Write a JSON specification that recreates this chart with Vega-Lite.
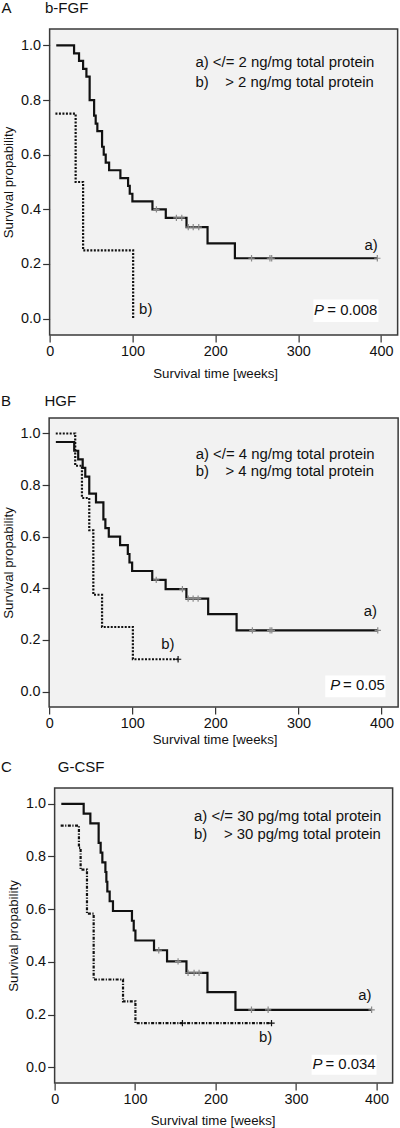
{
  "$schema": "https://vega.github.io/schema/vega-lite/v6.json",
  "padding": {"left": 0, "top": 0, "right": 0, "bottom": 0},
  "spacing": 12,
  "center": true,
  "config": {
    "font": "Liberation Sans",
    "view": {"fill": "#f2f2f2", "stroke": "#3a3a3a", "strokeWidth": 1.5},
    "axis": {"domain": false, "grid": false, "tickColor": "#333", "tickSize": 7, "tickWidth": 1.2, "labelFontSize": 14.4, "labelColor": "#111", "labelPadding": 2, "labelFlush": false, "titleFontSize": 13.3, "titleFontWeight": "normal", "titleColor": "#111"},
    "title": {"anchor": "start", "frame": "bounds", "fontSize": 15, "fontWeight": "normal", "color": "#111", "offset": 10},
    "text": {"fontSize": 14.9, "font": "Liberation Sans", "color": "#111"}
  },
  "vconcat": [
    {
      "width": 348,
      "height": 306,
      "title": {"text": "A\u00a0\u00a0\u00a0\u00a0\u00a0\u00a0\u00a0\u00a0b-FGF", "offset": 13},
      "data": {"values": [
        {"kind": "line", "g": "a", "t": 8, "s": 1},
        {"kind": "line", "g": "a", "t": 29.5, "s": 0.971},
        {"kind": "line", "g": "a", "t": 35.5, "s": 0.943},
        {"kind": "line", "g": "a", "t": 40.4, "s": 0.914},
        {"kind": "line", "g": "a", "t": 44.4, "s": 0.886},
        {"kind": "line", "g": "a", "t": 48.3, "s": 0.8},
        {"kind": "line", "g": "a", "t": 53.7, "s": 0.743},
        {"kind": "line", "g": "a", "t": 55.6, "s": 0.714},
        {"kind": "line", "g": "a", "t": 57.6, "s": 0.686},
        {"kind": "line", "g": "a", "t": 63.3, "s": 0.629},
        {"kind": "line", "g": "a", "t": 65.3, "s": 0.6},
        {"kind": "line", "g": "a", "t": 67.7, "s": 0.571},
        {"kind": "line", "g": "a", "t": 71.8, "s": 0.543},
        {"kind": "line", "g": "a", "t": 85.4, "s": 0.514},
        {"kind": "line", "g": "a", "t": 94.7, "s": 0.486},
        {"kind": "line", "g": "a", "t": 96.7, "s": 0.457},
        {"kind": "line", "g": "a", "t": 99.9, "s": 0.429},
        {"kind": "line", "g": "a", "t": 124.1, "s": 0.4},
        {"kind": "line", "g": "a", "t": 140.2, "s": 0.369},
        {"kind": "line", "g": "a", "t": 165.2, "s": 0.335},
        {"kind": "line", "g": "a", "t": 190.6, "s": 0.275},
        {"kind": "line", "g": "a", "t": 223.6, "s": 0.221},
        {"kind": "line", "g": "a", "t": 395.5, "s": 0.221},
        {"kind": "cens", "g": "a", "t": 128.9, "s": 0.4},
        {"kind": "cens", "g": "a", "t": 153, "s": 0.369},
        {"kind": "cens", "g": "a", "t": 159.5, "s": 0.369},
        {"kind": "cens", "g": "a", "t": 167.3, "s": 0.335},
        {"kind": "cens", "g": "a", "t": 173.3, "s": 0.335},
        {"kind": "cens", "g": "a", "t": 180, "s": 0.335},
        {"kind": "cens", "g": "a", "t": 243.7, "s": 0.221},
        {"kind": "cens", "g": "a", "t": 265.9, "s": 0.221},
        {"kind": "cens", "g": "a", "t": 268, "s": 0.221},
        {"kind": "cens", "g": "a", "t": 395.5, "s": 0.221},
        {"kind": "line", "g": "b", "t": 7, "s": 0.75},
        {"kind": "line", "g": "b", "t": 31.4, "s": 0.5},
        {"kind": "line", "g": "b", "t": 40.4, "s": 0.25},
        {"kind": "line", "g": "b", "t": 100.8, "s": 0},
        {"kind": "legend", "t": 176, "s": 0.934, "label": "a) </= 2 ng/mg total protein"},
        {"kind": "legend", "t": 176, "s": 0.863, "label": "b)\u00a0\u00a0\u00a0\u00a0> 2 ng/mg total protein"},
        {"kind": "legend", "t": 380, "s": 0.266, "label": "a)"},
        {"kind": "legend", "t": 108, "s": 0.033, "label": "b)"},
        {"kind": "box", "t": 318.3, "t2": 396.9, "s": 0.0695, "s2": -0.0124},
        {"kind": "pital", "t": 319, "s": 0.0285, "label": "P"},
        {"kind": "pval", "t": 395.6, "s": 0.0285, "label": "= 0.008"}
      ]},
      "encoding": {
        "x": {"field": "t", "type": "quantitative", "scale": {"domain": [0, 420], "nice": false, "zero": false},
              "axis": {"values": [0, 100, 200, 300, 400], "title": "Survival time [weeks]", "titleX": 165.5, "titlePadding": 9}},
        "y": {"field": "s", "type": "quantitative", "scale": {"domain": [-0.06, 1.06], "nice": false, "zero": false},
              "axis": {"values": [0, 0.2, 0.4, 0.6, 0.8, 1.0], "format": ".1f", "title": "Survival propability", "titlePadding": 5}}
      },
      "layer": [
        {"transform": [{"filter": "datum.kind == 'box'"}], "mark": {"type": "rect", "fill": "#ffffff"},
         "encoding": {"x2": {"field": "t2"}, "y2": {"field": "s2"}}},
        {"transform": [{"filter": "datum.kind == 'line' && datum.g == 'b'"}],
         "mark": {"type": "line", "interpolate": "step-after", "color": "#111", "strokeWidth": 2.2, "strokeDash": [2, 1.5]}, "encoding": {}},
        {"transform": [{"filter": "datum.kind == 'line' && datum.g == 'a'"}],
         "mark": {"type": "line", "interpolate": "step-after", "color": "#111", "strokeWidth": 2.2}, "encoding": {}},
        {"transform": [{"filter": "datum.kind == 'cens' && datum.g == 'a'"}],
         "mark": {"type": "point", "shape": "M0,-1V1M-1,0H1", "filled": false, "stroke": "#8a8a8a", "strokeWidth": 1.2, "size": 40, "opacity": 1}, "encoding": {}},
        {"transform": [{"filter": "datum.kind == 'legend'"}],
         "mark": {"type": "text", "align": "left", "baseline": "middle"}, "encoding": {"text": {"field": "label"}}},
        {"transform": [{"filter": "datum.kind == 'pital'"}],
         "mark": {"type": "text", "align": "left", "baseline": "middle", "fontStyle": "italic"}, "encoding": {"text": {"field": "label"}}},
        {"transform": [{"filter": "datum.kind == 'pval'"}],
         "mark": {"type": "text", "align": "right", "baseline": "middle"}, "encoding": {"text": {"field": "label"}}}
      ]
    },
    {
      "width": 349,
      "height": 289,
      "title": {"text": "B\u00a0\u00a0\u00a0\u00a0\u00a0\u00a0\u00a0\u00a0HGF", "offset": 9},
      "data": {"values": [
        {"kind": "line", "g": "a", "t": 8.1, "s": 0.967},
        {"kind": "line", "g": "a", "t": 30.2, "s": 0.933},
        {"kind": "line", "g": "a", "t": 35, "s": 0.9},
        {"kind": "line", "g": "a", "t": 40.4, "s": 0.867},
        {"kind": "line", "g": "a", "t": 43.5, "s": 0.833},
        {"kind": "line", "g": "a", "t": 48.3, "s": 0.767},
        {"kind": "line", "g": "a", "t": 56.4, "s": 0.733},
        {"kind": "line", "g": "a", "t": 65.3, "s": 0.667},
        {"kind": "line", "g": "a", "t": 67.7, "s": 0.633},
        {"kind": "line", "g": "a", "t": 71.8, "s": 0.6},
        {"kind": "line", "g": "a", "t": 85.4, "s": 0.567},
        {"kind": "line", "g": "a", "t": 94.7, "s": 0.533},
        {"kind": "line", "g": "a", "t": 96.7, "s": 0.5},
        {"kind": "line", "g": "a", "t": 99.9, "s": 0.467},
        {"kind": "line", "g": "a", "t": 124.1, "s": 0.433},
        {"kind": "line", "g": "a", "t": 140.2, "s": 0.397},
        {"kind": "line", "g": "a", "t": 165.2, "s": 0.36},
        {"kind": "line", "g": "a", "t": 191.4, "s": 0.3},
        {"kind": "line", "g": "a", "t": 225.6, "s": 0.237},
        {"kind": "line", "g": "a", "t": 395.5, "s": 0.237},
        {"kind": "cens", "g": "a", "t": 128.9, "s": 0.433},
        {"kind": "cens", "g": "a", "t": 160.4, "s": 0.397},
        {"kind": "cens", "g": "a", "t": 167.3, "s": 0.36},
        {"kind": "cens", "g": "a", "t": 173.3, "s": 0.36},
        {"kind": "cens", "g": "a", "t": 179.3, "s": 0.36},
        {"kind": "cens", "g": "a", "t": 244.6, "s": 0.237},
        {"kind": "cens", "g": "a", "t": 265.9, "s": 0.237},
        {"kind": "cens", "g": "a", "t": 268, "s": 0.237},
        {"kind": "cens", "g": "a", "t": 395.5, "s": 0.237},
        {"kind": "line", "g": "b", "t": 8, "s": 1},
        {"kind": "line", "g": "b", "t": 31.4, "s": 0.875},
        {"kind": "line", "g": "b", "t": 39.5, "s": 0.75},
        {"kind": "line", "g": "b", "t": 48.3, "s": 0.625},
        {"kind": "line", "g": "b", "t": 53.2, "s": 0.375},
        {"kind": "line", "g": "b", "t": 63.7, "s": 0.25},
        {"kind": "line", "g": "b", "t": 100.8, "s": 0.125},
        {"kind": "line", "g": "b", "t": 155.2, "s": 0.125},
        {"kind": "cens", "g": "b", "t": 155.2, "s": 0.125},
        {"kind": "legend", "t": 176.4, "s": 0.916, "label": "a) </= 4 ng/mg total protein"},
        {"kind": "legend", "t": 176.4, "s": 0.851, "label": "b)\u00a0\u00a0\u00a0\u00a0> 4 ng/mg total protein"},
        {"kind": "legend", "t": 378.7, "s": 0.308, "label": "a)"},
        {"kind": "legend", "t": 135, "s": 0.182, "label": "b)"},
        {"kind": "box", "t": 332.3, "t2": 404.8, "s": 0.062, "s2": -0.022},
        {"kind": "pital", "t": 338.4, "s": 0.023, "label": "P"},
        {"kind": "pval", "t": 404.1, "s": 0.023, "label": "= 0.05"}
      ]},
      "encoding": {
        "x": {"field": "t", "type": "quantitative", "scale": {"domain": [0, 420], "nice": false, "zero": false},
              "axis": {"values": [0, 100, 200, 300, 400], "title": "Survival time [weeks]", "titleX": 165.5, "titlePadding": 3}},
        "y": {"field": "s", "type": "quantitative", "scale": {"domain": [-0.06, 1.06], "nice": false, "zero": false},
              "axis": {"values": [0, 0.2, 0.4, 0.6, 0.8, 1.0], "format": ".1f", "title": "Survival propability", "titlePadding": 5}}
      },
      "layer": [
        {"transform": [{"filter": "datum.kind == 'box'"}], "mark": {"type": "rect", "fill": "#ffffff"},
         "encoding": {"x2": {"field": "t2"}, "y2": {"field": "s2"}}},
        {"transform": [{"filter": "datum.kind == 'line' && datum.g == 'b'"}],
         "mark": {"type": "line", "interpolate": "step-after", "color": "#111", "strokeWidth": 2.2, "strokeDash": [2, 1.5]}, "encoding": {}},
        {"transform": [{"filter": "datum.kind == 'line' && datum.g == 'a'"}],
         "mark": {"type": "line", "interpolate": "step-after", "color": "#111", "strokeWidth": 2.2}, "encoding": {}},
        {"transform": [{"filter": "datum.kind == 'cens' && datum.g == 'a'"}],
         "mark": {"type": "point", "shape": "M0,-1V1M-1,0H1", "filled": false, "stroke": "#8a8a8a", "strokeWidth": 1.2, "size": 40, "opacity": 1}, "encoding": {}},
        {"transform": [{"filter": "datum.kind == 'cens' && datum.g == 'b'"}],
         "mark": {"type": "point", "shape": "M0,-1V1M-1,0H1", "filled": false, "stroke": "#111", "strokeWidth": 1.2, "size": 40, "opacity": 1}, "encoding": {}},
        {"transform": [{"filter": "datum.kind == 'legend'"}],
         "mark": {"type": "text", "align": "left", "baseline": "middle"}, "encoding": {"text": {"field": "label"}}},
        {"transform": [{"filter": "datum.kind == 'pital'"}],
         "mark": {"type": "text", "align": "left", "baseline": "middle", "fontStyle": "italic"}, "encoding": {"text": {"field": "label"}}},
        {"transform": [{"filter": "datum.kind == 'pval'"}],
         "mark": {"type": "text", "align": "right", "baseline": "middle"}, "encoding": {"text": {"field": "label"}}}
      ]
    },
    {
      "width": 338,
      "height": 295,
      "title": {"text": "C\u00a0\u00a0\u00a0\u00a0\u00a0\u00a0\u00a0\u00a0\u00a0\u00a0\u00a0G-CSF", "offset": 13, "dx": -5.5},
      "data": {"values": [
        {"kind": "line", "g": "a", "t": 8.3, "s": 1},
        {"kind": "line", "g": "a", "t": 36.1, "s": 0.963},
        {"kind": "line", "g": "a", "t": 44.4, "s": 0.926},
        {"kind": "line", "g": "a", "t": 54.7, "s": 0.852},
        {"kind": "line", "g": "a", "t": 57.2, "s": 0.815},
        {"kind": "line", "g": "a", "t": 59.3, "s": 0.778},
        {"kind": "line", "g": "a", "t": 63.1, "s": 0.741},
        {"kind": "line", "g": "a", "t": 64.3, "s": 0.704},
        {"kind": "line", "g": "a", "t": 65.5, "s": 0.667},
        {"kind": "line", "g": "a", "t": 68.4, "s": 0.63},
        {"kind": "line", "g": "a", "t": 72.5, "s": 0.593},
        {"kind": "line", "g": "a", "t": 96.1, "s": 0.556},
        {"kind": "line", "g": "a", "t": 98.3, "s": 0.519},
        {"kind": "line", "g": "a", "t": 100.4, "s": 0.481},
        {"kind": "line", "g": "a", "t": 123.5, "s": 0.444},
        {"kind": "line", "g": "a", "t": 139.7, "s": 0.402},
        {"kind": "line", "g": "a", "t": 163.8, "s": 0.358},
        {"kind": "line", "g": "a", "t": 189.9, "s": 0.285},
        {"kind": "line", "g": "a", "t": 224.7, "s": 0.218},
        {"kind": "line", "g": "a", "t": 393.9, "s": 0.218},
        {"kind": "cens", "g": "a", "t": 129.4, "s": 0.444},
        {"kind": "cens", "g": "a", "t": 153.4, "s": 0.402},
        {"kind": "cens", "g": "a", "t": 165.8, "s": 0.358},
        {"kind": "cens", "g": "a", "t": 173.3, "s": 0.358},
        {"kind": "cens", "g": "a", "t": 179.5, "s": 0.358},
        {"kind": "cens", "g": "a", "t": 244.6, "s": 0.218},
        {"kind": "cens", "g": "a", "t": 265.3, "s": 0.218},
        {"kind": "cens", "g": "a", "t": 393.9, "s": 0.218},
        {"kind": "line", "g": "b", "t": 7.5, "s": 0.917},
        {"kind": "line", "g": "b", "t": 30.2, "s": 0.833},
        {"kind": "line", "g": "b", "t": 32.3, "s": 0.75},
        {"kind": "line", "g": "b", "t": 40.2, "s": 0.583},
        {"kind": "line", "g": "b", "t": 48.5, "s": 0.333},
        {"kind": "line", "g": "b", "t": 85, "s": 0.25},
        {"kind": "line", "g": "b", "t": 100.4, "s": 0.167},
        {"kind": "line", "g": "b", "t": 269.5, "s": 0.167},
        {"kind": "cens", "g": "b", "t": 158.8, "s": 0.167},
        {"kind": "cens", "g": "b", "t": 269.5, "s": 0.167},
        {"kind": "legend", "t": 173.3, "s": 0.949, "label": "a) </= 30 pg/mg total protein"},
        {"kind": "legend", "t": 173.3, "s": 0.882, "label": "b)\u00a0\u00a0\u00a0\u00a0> 30 pg/mg total protein"},
        {"kind": "legend", "t": 377.2, "s": 0.271, "label": "a)"},
        {"kind": "legend", "t": 254, "s": 0.112, "label": "b)"},
        {"kind": "box", "t": 319.3, "t2": 400, "s": 0.047, "s2": -0.029},
        {"kind": "pital", "t": 320.5, "s": 0.009, "label": "P"},
        {"kind": "pval", "t": 398.9, "s": 0.009, "label": "= 0.034"}
      ]},
      "encoding": {
        "x": {"field": "t", "type": "quantitative", "scale": {"domain": [0, 420], "nice": false, "zero": false},
              "axis": {"values": [0, 100, 200, 300, 400], "title": "Survival time [weeks]", "titleX": 158, "titlePadding": 8}},
        "y": {"field": "s", "type": "quantitative", "scale": {"domain": [-0.06, 1.06], "nice": false, "zero": false},
              "axis": {"values": [0, 0.2, 0.4, 0.6, 0.8, 1.0], "format": ".1f", "title": "Survival propability", "titlePadding": 5}}
      },
      "layer": [
        {"transform": [{"filter": "datum.kind == 'box'"}], "mark": {"type": "rect", "fill": "#ffffff"},
         "encoding": {"x2": {"field": "t2"}, "y2": {"field": "s2"}}},
        {"transform": [{"filter": "datum.kind == 'line' && datum.g == 'b'"}],
         "mark": {"type": "line", "interpolate": "step-after", "color": "#111", "strokeWidth": 2.2, "strokeDash": [3, 1.5, 1.2, 1.5]}, "encoding": {}},
        {"transform": [{"filter": "datum.kind == 'line' && datum.g == 'a'"}],
         "mark": {"type": "line", "interpolate": "step-after", "color": "#111", "strokeWidth": 2.2}, "encoding": {}},
        {"transform": [{"filter": "datum.kind == 'cens' && datum.g == 'a'"}],
         "mark": {"type": "point", "shape": "M0,-1V1M-1,0H1", "filled": false, "stroke": "#8a8a8a", "strokeWidth": 1.2, "size": 40, "opacity": 1}, "encoding": {}},
        {"transform": [{"filter": "datum.kind == 'cens' && datum.g == 'b'"}],
         "mark": {"type": "point", "shape": "M0,-1V1M-1,0H1", "filled": false, "stroke": "#111", "strokeWidth": 1.2, "size": 40, "opacity": 1}, "encoding": {}},
        {"transform": [{"filter": "datum.kind == 'legend'"}],
         "mark": {"type": "text", "align": "left", "baseline": "middle"}, "encoding": {"text": {"field": "label"}}},
        {"transform": [{"filter": "datum.kind == 'pital'"}],
         "mark": {"type": "text", "align": "left", "baseline": "middle", "fontStyle": "italic"}, "encoding": {"text": {"field": "label"}}},
        {"transform": [{"filter": "datum.kind == 'pval'"}],
         "mark": {"type": "text", "align": "right", "baseline": "middle"}, "encoding": {"text": {"field": "label"}}}
      ]
    }
  ]
}
